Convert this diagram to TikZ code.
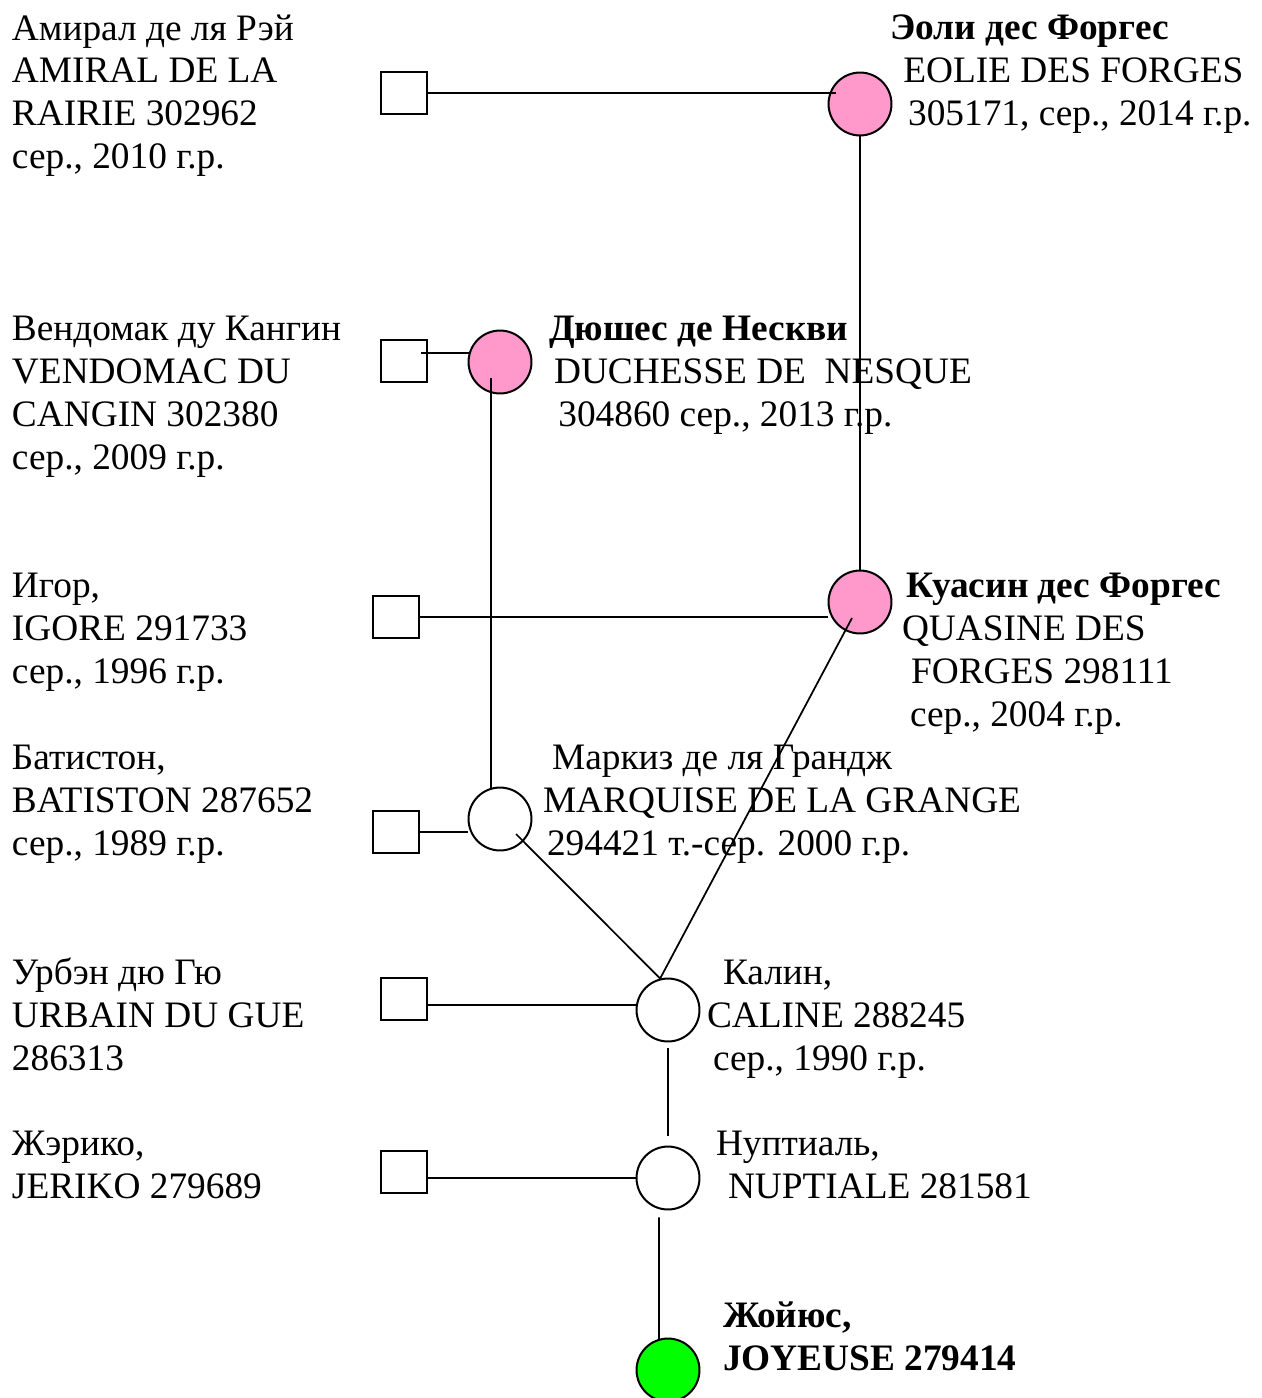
\documentclass[tikz,border=0pt]{standalone}
\usepackage{fontspec}
\setmainfont{Liberation Serif}
\usetikzlibrary{calc}

\begin{document}
\begin{tikzpicture}[x=0.375pt, y=-0.375pt, line width=0.75pt,
        sire_style/.style={rectangle,draw=black,fill=white,minimum width=17.3pt,minimum height=15.8pt,inner sep=0pt},
        dam_style/.style={circle,draw=black,fill=white,minimum size=23.6pt,inner sep=0pt},
        selected_dam_style/.style={dam_style,fill={rgb,255:red,255;green,153;blue,204}},
        foal_style/.style={dam_style,fill=green},
        label_style/.style={anchor=base west,align=left,inner sep=0pt,font=\fontsize{14}{16.125}\selectfont},
        edge_style/.style={draw=black,line width=0.65pt}]

        \useasboundingbox (0,0) rectangle (1262,1398);

        % sires (squares) and dams (circles)
        \node [sire_style](n1) at (404,93) {};
        \node [selected_dam_style](n2) at (860,104) {};
        \node [sire_style](n3) at (404,361) {};
        \node [selected_dam_style](n4) at (500,362) {};
        \node [sire_style](n5) at (396,617) {};
        \node [selected_dam_style](n6) at (860,602) {};
        \node [sire_style](n7) at (396,832) {};
        \node [dam_style](n8) at (500,819) {};
        \node [sire_style](n9) at (404,999) {};
        \node [dam_style](n10) at (668,1010) {};
        \node [sire_style](n11) at (404,1172) {};
        \node [dam_style](n12) at (668,1178) {};
        \node [foal_style](n13) at (668,1370) {};

        % names (placed at the baseline of the last line)
        \node [label_style](l1) at (11,169) {Амирал де ля Рэй\\AMIRAL DE LA\\RAIRIE 302962\\сер., 2010 г.р.};
        \node [label_style](l2) at (889,126) {\textbf{Эоли дес Форгес}\\\hspace*{5pt}EOLIE DES FORGES\\\hspace*{6.8pt}305171, сер., 2014 г.р.};
        \node [label_style](l3) at (11,469) {Вендомак ду Кангин\\VENDOMAC DU\\CANGIN 302380\\сер., 2009 г.р.};
        \node [label_style](l4) at (548,426) {\textbf{Дюшес де Нескви}\\\hspace*{1.9pt}DUCHESSE DE\ \ NESQUE\\\hspace*{3.5pt}304860 сер., 2013 г.р.};
        \node [label_style](l5) at (11,683) {Игор,\\IGORE 291733\\сер., 1996 г.р.};
        \node [label_style](l6) at (901,726) {\hspace*{1.5pt}\textbf{Куасин дес Форгес}\\QUASINE DES\\\hspace*{3.4pt}FORGES 298111\\\hspace*{3pt}сер., 2004 г.р.};
        \node [label_style](l7) at (11,855) {Батистон,\\BATISTON 287652\\сер., 1989 г.р.};
        \node [label_style](l8) at (542,855) {\hspace*{3.4pt}Маркиз де ля Грандж\\MARQUISE DE LA GRANGE\\\hspace*{1.5pt}294421 т.-сер. 2000 г.р.};
        \node [label_style](l9) at (11,1070) {Урбэн дю Гю\\URBAIN DU GUE\\286313};
        \node [label_style](l10) at (706,1070) {\hspace*{6pt}Калин,\\CALINE 288245\\\hspace*{2.3pt}сер., 1990 г.р.};
        \node [label_style](l11) at (11,1198) {Жэрико,\\JERIKO 279689};
        \node [label_style](l12) at (715,1198) {Нуптиаль,\\\hspace*{4.5pt}NUPTIALE 281581};
        \node [label_style,font=\fontsize{14}{16.125}\selectfont\bfseries](l13) at (722,1370) {Жойюс,\\JOYEUSE 279414};

        % lines
        \draw [edge_style] (n1.east) -- ([xshift=3pt]n1.east -| n2.west);
        \draw [edge_style] (n2) -- (n6);
        \draw [edge_style] ([shift={(-7,-8)}]n3.east) -- (n4.164);
        \draw [edge_style] ([shift={(-9,16)}]n4.center) -- (n8.106);
        \draw [edge_style] (n5.east) -- (n5.east -| n6.west);
        \draw [edge_style] ([shift={(-8,16)}]n6.center) -- (n10.104);
        \draw [edge_style] (n7.east) -- (n7.east -| n8.west);
        \draw [edge_style] ([shift={(16,15)}]n8.center) -- (n10.104);
        \draw [edge_style] ([shift={(0,6)}]n9.east) -- ([shift={(0,6)}]n9.east -| n10.west);
        \draw [edge_style, shorten <=2.25pt, shorten >=3.4pt] (n10) -- (n12);
        \draw [edge_style] (n12.west -| n11.east) -- (n12.west);
        \draw [edge_style] ([shift={(-9,7)}]n12.south) -- (n13.106);

\end{tikzpicture}
\end{document}
